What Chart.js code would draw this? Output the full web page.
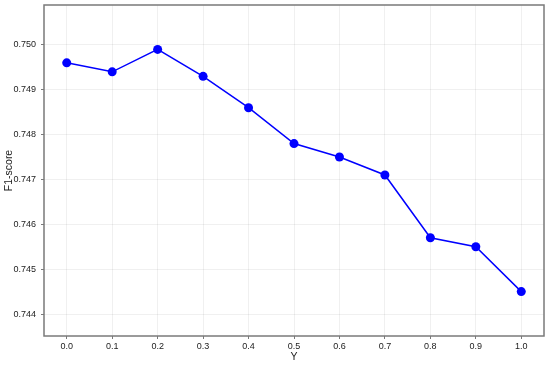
<!DOCTYPE html>
<html>
<head>
<meta charset="utf-8">
<script src="https://cdn.jsdelivr.net/npm/chart.js@4/dist/chart.umd.min.js"></script>
<style>
html,body{margin:0;padding:0;background:#fff;}
canvas{display:block;}
</style>
</head>
<body>
<canvas id="c" width="550" height="366" style="width:550px;height:366px;"></canvas>
<script>
const categories = [0.0, 0.1, 0.2, 0.3, 0.4, 0.5, 0.6, 0.7, 0.8, 0.9, 1.0];
const f1Values = [0.7496, 0.7494, 0.7499, 0.7493, 0.7486, 0.7478, 0.7475, 0.7471, 0.7457, 0.7455, 0.7445];
const xTickValues = [0.0, 0.1, 0.2, 0.3, 0.4, 0.5, 0.6, 0.7, 0.8, 0.9, 1.0];
const yTickValues = [0.744, 0.745, 0.746, 0.747, 0.748, 0.749, 0.750];

const FONT = "'Liberation Sans', Arial, sans-serif";

const framePlugin = {
  id: 'frame',
  afterDatasetsDraw(chart) {
    const a = chart.chartArea, ctx = chart.ctx;
    ctx.save();
    ctx.strokeStyle = '#7a7a7a';
    ctx.lineWidth = 1.5;
    ctx.strokeRect(a.left, a.top, a.right - a.left, a.bottom - a.top);
    ctx.restore();
  }
};

new Chart(document.getElementById('c'), {
  type: 'line',
  data: {
    datasets: [{
      data: categories.map((x, i) => ({x: x, y: f1Values[i]})),
      borderColor: '#0000ff',
      backgroundColor: '#0000ff',
      borderWidth: 1.5,
      pointRadius: 4.5,
      pointHoverRadius: 4.5,
      pointBorderWidth: 0,
      tension: 0
    }]
  },
  options: {
    responsive: false,
    animation: false,
    devicePixelRatio: 1,
    layout: {padding: {top: 5, right: 6, left: 0, bottom: 0}},
    plugins: {legend: {display: false}, tooltip: {enabled: false}},
    scales: {
      x: {
        type: 'linear',
        min: -0.05, max: 1.05,
        afterBuildTicks(s) { s.ticks = xTickValues.map(v => ({value: v})); },
        afterFit(s) { s.height = 30; s.paddingLeft = 0; s.paddingRight = 0; },
        ticks: {
          callback: v => v.toFixed(1),
          font: {family: FONT, size: 9},
          color: '#222',
          padding: 2,
          maxRotation: 0,
          autoSkip: false
        },
        grid: {color: 'rgba(0,0,0,0.06)', tickColor: '#7a7a7a', tickLength: 3, borderDash: [2, 2]},
        border: {display: false},
        title: {display: true, text: 'Y', font: {family: FONT, size: 10.5}, color: '#222', padding: {top: 0, bottom: 3}}
      },
      y: {
        min: 0.74351, max: 0.75089,
        afterBuildTicks(s) { s.ticks = yTickValues.map(v => ({value: v})); },
        afterFit(s) { s.width = 44; s.paddingTop = 0; s.paddingBottom = 0; },
        ticks: {
          callback: v => v.toFixed(3),
          font: {family: FONT, size: 9},
          color: '#222',
          padding: 5
        },
        grid: {color: 'rgba(0,0,0,0.06)', tickColor: '#7a7a7a', tickLength: 3, borderDash: [2, 2]},
        border: {display: false},
        title: {display: true, text: 'F1-score', font: {family: FONT, size: 10.5}, color: '#222', padding: {top: 3, bottom: 0}}
      }
    }
  },
  plugins: [framePlugin]
});
</script>
</body>
</html>
